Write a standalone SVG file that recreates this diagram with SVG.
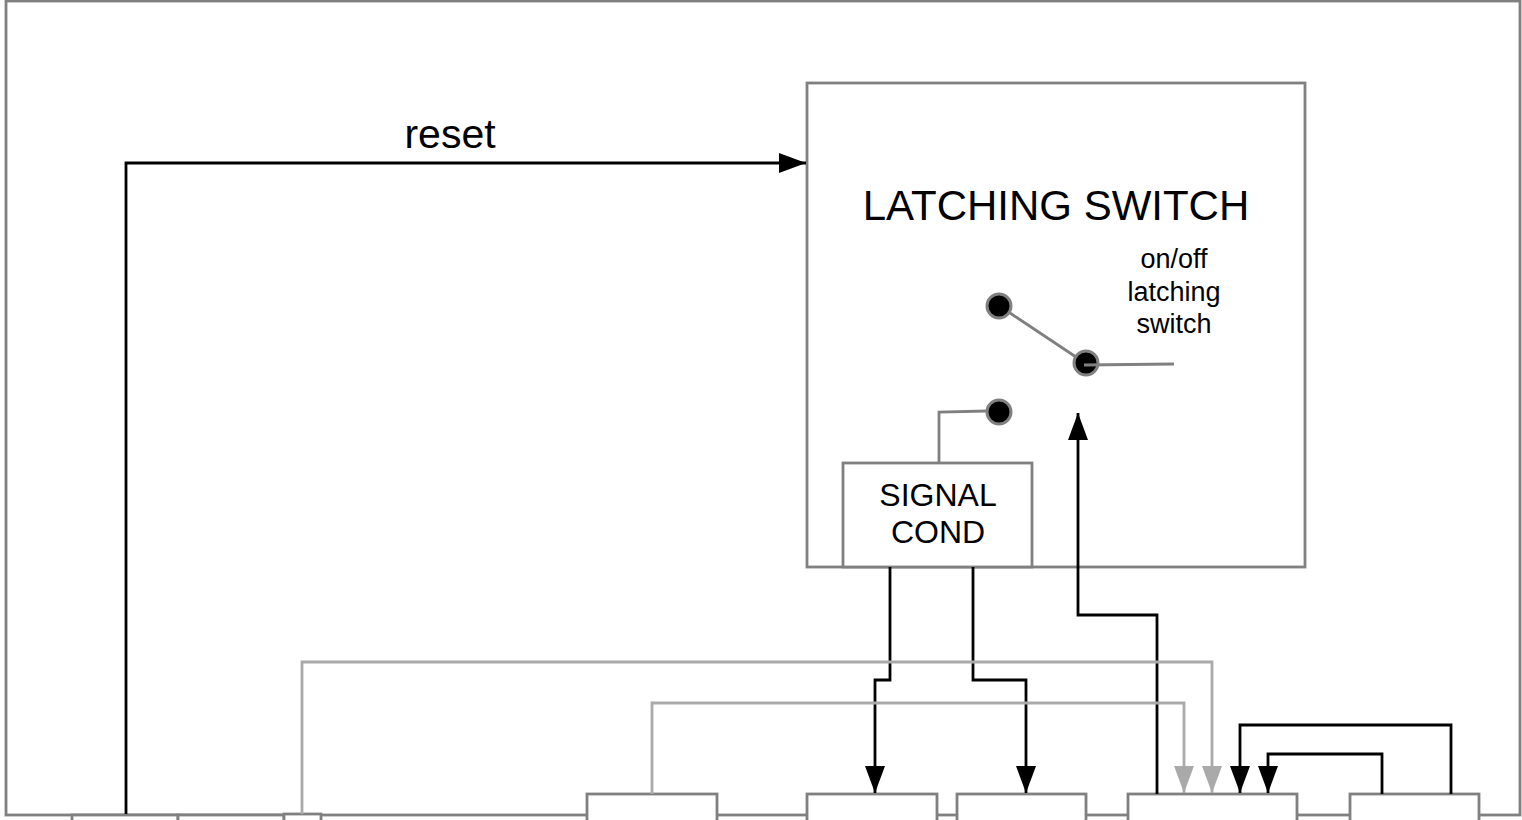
<svg xmlns="http://www.w3.org/2000/svg" width="1522" height="820" viewBox="0 0 1522 820">
<style>
.box{fill:#fff;stroke:#808080;stroke-width:2.8}
.k{fill:none;stroke:#000;stroke-width:2.8}
.g{fill:none;stroke:#aaa;stroke-width:2.8}
.w{fill:none;stroke:#808080;stroke-width:2.8}
.dot{fill:#000;stroke:#808080;stroke-width:3}
text{font-family:"Liberation Sans",Arial,sans-serif;fill:#000;text-anchor:middle}
</style>
<defs>
<marker id="ak" markerUnits="userSpaceOnUse" markerWidth="28" markerHeight="20" refX="27" refY="10" orient="auto"><path d="M0,0L27,10L0,20Z" fill="#000"/></marker>
<marker id="ag" markerUnits="userSpaceOnUse" markerWidth="28" markerHeight="20" refX="27" refY="10" orient="auto"><path d="M0,0L27,10L0,20Z" fill="#aaa"/></marker>
</defs>
<g id="frame"><rect class="box" x="6" y="1" width="1514" height="814"/></g>
<g id="latching-switch"><rect class="box" x="807" y="83" width="498" height="484"/><text x="1056" y="220" font-size="42">LATCHING SWITCH</text></g>
<g id="signal-cond"><rect class="box" x="843" y="463" width="189" height="104"/><text x="938" y="506" font-size="32">SIGNAL</text><text x="938" y="543" font-size="32">COND</text></g>
<g id="switch-label"><text x="1174" y="268" font-size="27">on/off</text><text x="1174" y="301" font-size="27">latching</text><text x="1174" y="333" font-size="27">switch</text></g>
<g id="contact-a"><circle class="dot" cx="999" cy="306" r="12"/></g>
<g id="contact-b"><circle class="dot" cx="1086" cy="363" r="12"/></g>
<g id="contact-c"><circle class="dot" cx="999" cy="412" r="12"/></g>
<g id="box-1"><rect class="box" x="72" y="815" width="106" height="20"/></g>
<g id="box-2"><rect class="box" x="178" y="815" width="106" height="20"/></g>
<g id="box-3"><rect class="box" x="284" y="814" width="37" height="20"/></g>
<g id="box-4"><rect class="box" x="587" y="794" width="130" height="40"/></g>
<g id="box-5"><rect class="box" x="807" y="794" width="130" height="40"/></g>
<g id="box-6"><rect class="box" x="957" y="794" width="129" height="40"/></g>
<g id="box-7"><rect class="box" x="1128" y="794" width="169" height="40"/></g>
<g id="box-8"><rect class="box" x="1350" y="794" width="129" height="40"/></g>
<g id="connectors">
<path class="w" d="M1010,313L1076,357M1084,365L1174,364M987,411L939,412V463"/>
<path class="k" d="M126,814V163H806" marker-end="url(#ak)"/>
<path class="k" d="M890,567V680H875V793" marker-end="url(#ak)"/>
<path class="k" d="M973,567V680H1026V793" marker-end="url(#ak)"/>
<path class="k" d="M1157,794V615H1078V413" marker-end="url(#ak)"/>
<path class="k" d="M1451,794V725H1240V793" marker-end="url(#ak)"/>
<path class="k" d="M1382,794V754H1268V793" marker-end="url(#ak)"/>
<path class="g" d="M302,814V662H1212V793" marker-end="url(#ag)"/>
<path class="g" d="M652,794V703H1184V793" marker-end="url(#ag)"/>
</g>
<text x="450" y="148" font-size="41">reset</text>
</svg>
